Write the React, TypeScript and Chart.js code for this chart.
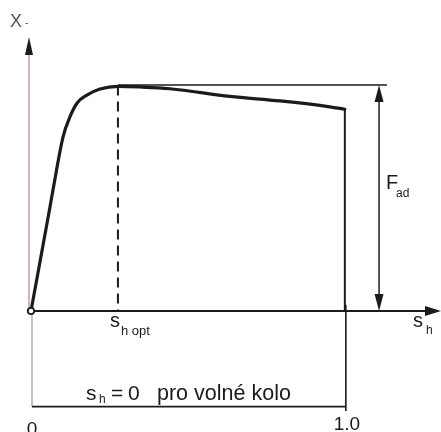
import React, { useEffect, useRef } from "react";
import { Chart, registerables } from "chart.js";

Chart.register(...registerables);

// slip values (s_h) and adhesion coefficient values (X)
const riseSlip = [0, 0.0064, 0.057, 0.070, 0.102, 0.124, 0.147, 0.178, 0.220, 0.277, 0.347, 0.443, 0.634, 0.793, 0.952, 1.0];
const riseCoef = [0, 0.049, 0.434, 0.536, 0.771, 0.860, 0.922, 0.957, 0.984, 0.996, 0.993, 0.985, 0.951, 0.931, 0.905, 0.894];
const dropSlip = [1.0, 1.0];
const dropCoef = [0.894, 0];

const sOpt = 0.277;
const fAd = 1.0;
const sFull = 1.0;
const xMax = 1.3;
const yMax = 1.21;

const tickLabels = ["0", "1.0"];

const FONT = "'Liberation Sans', Arial, sans-serif";
const INK = "#1e1a1a";

const annotations = {
  id: "annotations",
  afterDatasetsDraw(chart: any) {
    const { ctx } = chart;
    const xs = chart.scales.x;
    const ys = chart.scales.y;
    const X = (v: number) => xs.getPixelForValue(v);
    const Y = (v: number) => ys.getPixelForValue(v);
    const x0 = X(0);
    const y0 = Y(0);
    ctx.save();

    // y axis
    ctx.strokeStyle = "#a88a86";
    ctx.lineWidth = 1.2;
    ctx.beginPath();
    ctx.moveTo(x0 - 2, y0);
    ctx.lineTo(x0 - 2, Y(yMax) + 14);
    ctx.stroke();
    ctx.fillStyle = INK;
    ctx.beginPath();
    ctx.moveTo(x0 - 2, Y(yMax) - 1);
    ctx.lineTo(x0 - 6, Y(yMax) + 17);
    ctx.lineTo(x0 + 2, Y(yMax) + 17);
    ctx.closePath();
    ctx.fill();

    // x axis
    const xEnd = X(xMax) + 2;
    ctx.strokeStyle = INK;
    ctx.lineWidth = 2;
    ctx.beginPath();
    ctx.moveTo(x0, y0);
    ctx.lineTo(xEnd - 12, y0);
    ctx.stroke();
    ctx.beginPath();
    ctx.moveTo(xEnd, y0);
    ctx.lineTo(xEnd - 16, y0 - 5);
    ctx.lineTo(xEnd - 16, y0 + 5);
    ctx.closePath();
    ctx.fill();

    // dashed s_h opt line
    ctx.setLineDash([10, 6]);
    ctx.lineWidth = 2;
    ctx.beginPath();
    ctx.moveTo(X(sOpt), Y(fAd));
    ctx.lineTo(X(sOpt), y0);
    ctx.stroke();
    ctx.setLineDash([]);

    // horizontal reference line at F_ad
    ctx.lineWidth = 1.5;
    ctx.beginPath();
    ctx.moveTo(X(sOpt), Y(fAd) - 0.5);
    ctx.lineTo(X(1.134), Y(fAd) - 0.5);
    ctx.stroke();

    // F_ad double arrow
    const ax = X(1.109);
    const top = Y(fAd) - 0.5;
    ctx.lineWidth = 1.5;
    ctx.beginPath();
    ctx.moveTo(ax, top + 10);
    ctx.lineTo(ax, y0 - 10);
    ctx.stroke();
    ctx.beginPath();
    ctx.moveTo(ax, top);
    ctx.lineTo(ax - 4.5, top + 17);
    ctx.lineTo(ax + 4.5, top + 17);
    ctx.closePath();
    ctx.fill();
    ctx.beginPath();
    ctx.moveTo(ax, y0);
    ctx.lineTo(ax - 4.5, y0 - 17);
    ctx.lineTo(ax + 4.5, y0 - 17);
    ctx.closePath();
    ctx.fill();

    // origin circle
    ctx.fillStyle = "#ffffff";
    ctx.lineWidth = 1.8;
    ctx.beginPath();
    ctx.arc(x0, y0, 3.2, 0, Math.PI * 2);
    ctx.fill();
    ctx.stroke();

    // bracket for s_h range
    const by = Y(-0.424);
    ctx.strokeStyle = "#b09894";
    ctx.lineWidth = 1.2;
    ctx.beginPath();
    ctx.moveTo(x0 + 1, y0 + 4);
    ctx.lineTo(x0 + 1, by);
    ctx.stroke();
    ctx.strokeStyle = INK;
    ctx.lineWidth = 1.6;
    ctx.beginPath();
    ctx.moveTo(x0 + 1, by);
    ctx.lineTo(X(sFull) + 1, by);
    ctx.moveTo(X(sFull) + 1, y0 - 6);
    ctx.lineTo(X(sFull) + 1, Y(-0.443));
    ctx.stroke();

    // texts
    ctx.fillStyle = INK;
    ctx.textBaseline = "alphabetic";
    ctx.textAlign = "left";
    // y axis label
    ctx.fillStyle = "#555";
    ctx.font = `18px ${FONT}`;
    ctx.fillText("X", x0 - 21, Y(yMax) - 11);
    ctx.font = `10px ${FONT}`;
    ctx.fillText("-", x0 - 6, Y(yMax) - 12);
    ctx.fillStyle = INK;

    // s_h opt
    ctx.font = `20px ${FONT}`;
    ctx.fillText("s", X(sOpt) - 8, y0 + 16);
    ctx.font = `13px ${FONT}`;
    ctx.fillText("h opt", X(sOpt) + 3, y0 + 24);

    // s_h axis title
    ctx.font = `20px ${FONT}`;
    ctx.fillText("s", X(xMax) - 26, y0 + 16);
    ctx.font = `12px ${FONT}`;
    ctx.fillText("h", X(xMax) - 13, y0 + 23);

    // F_ad
    ctx.font = `20px ${FONT}`;
    ctx.fillText("F", ax + 7, Y(0.54));
    ctx.font = `12px ${FONT}`;
    ctx.fillText("ad", ax + 17, Y(0.505));

    // bracket text
    const ty = Y(-0.394);
    ctx.font = `21px ${FONT}`;
    ctx.fillText("s", x0 + 55, ty);
    ctx.font = `12px ${FONT}`;
    ctx.fillText("h", x0 + 68, ty + 3);
    ctx.font = `21px ${FONT}`;
    ctx.fillText("=", x0 + 80, ty);
    ctx.fillText("0", x0 + 97, ty);
    ctx.font = `21.5px ${FONT}`;
    ctx.fillText("pro volné kolo", x0 + 126, ty);

    // tick labels
    ctx.textAlign = "center";
    ctx.font = `19px ${FONT}`;
    ctx.fillText(tickLabels[0], x0 + 1, Y(-0.551));
    ctx.fillText(tickLabels[1], X(sFull) + 2, Y(-0.528));

    ctx.restore();
  },
};

export default function App() {
  const ref = useRef<HTMLCanvasElement | null>(null);
  useEffect(() => {
    if (!ref.current) return;
    const chart = new Chart(ref.current, {
      type: "scatter",
      data: {
        datasets: [
          {
            data: riseSlip.map((s, i) => ({ x: s, y: riseCoef[i] })),
            showLine: true,
            borderColor: INK,
            borderWidth: 3.2,
            pointRadius: 0,
            cubicInterpolationMode: "monotone",
            borderCapStyle: "round",
            borderJoinStyle: "round",
            clip: false,
          },
          {
            data: dropSlip.map((s, i) => ({ x: s, y: dropCoef[i] })),
            showLine: true,
            borderColor: INK,
            borderWidth: 2,
            pointRadius: 0,
            tension: 0,
            borderCapStyle: "round",
            clip: false,
          },
        ],
      },
      options: {
        responsive: false,
        animation: false,
        layout: { padding: { left: 31, right: 2, top: 38, bottom: 121 } },
        plugins: { legend: { display: false }, tooltip: { enabled: false } },
        scales: {
          x: { type: "linear", min: 0, max: xMax, display: false },
          y: { type: "linear", min: 0, max: yMax, display: false },
        },
      },
      plugins: [annotations],
    } as any);
    return () => chart.destroy();
  }, []);
  return (
    <canvas
      ref={ref}
      width={441}
      height={432}
      style={{ position: "fixed", left: 0, top: 0, width: 441, height: 432, background: "#fff" }}
    />
  );
}
